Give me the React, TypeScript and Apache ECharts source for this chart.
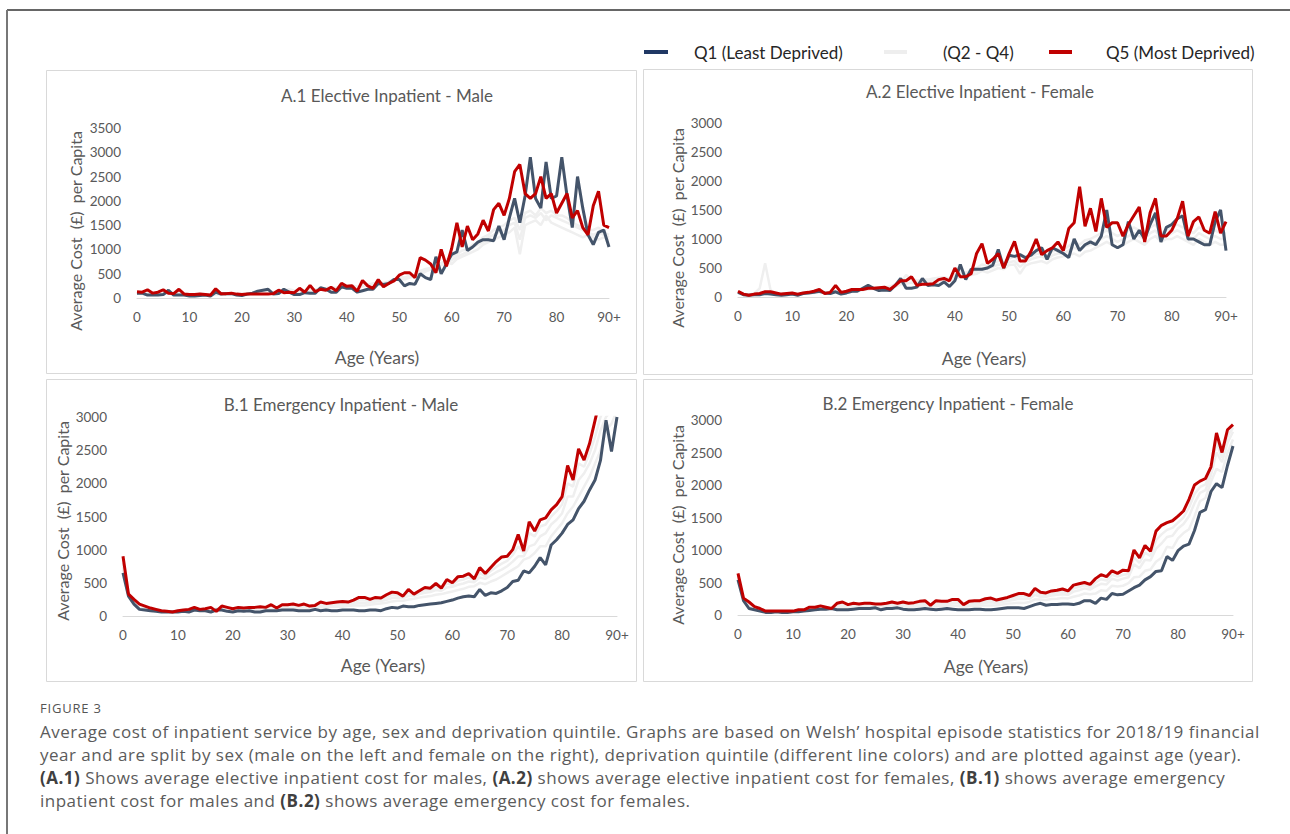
import React, { useEffect, useRef } from "react";
import * as echarts from "echarts";

const ages: string[] = Array.from({ length: 91 }, (_, i) => (i === 90 ? "90+" : String(i)));

// ---------- A.1 Elective Inpatient - Male ----------
const a1Q1 = [
  100, 100, 60, 60, 60, 70, 160, 60, 60, 60,
  40, 40, 50, 60, 40, 120, 80, 90, 90, 60,
  50, 80, 100, 140, 160, 180, 80, 90, 180, 120,
  70, 70, 110, 100, 100, 210, 180, 120, 120, 230,
  200, 200, 120, 150, 180, 180, 300, 280, 300, 380,
  380, 250, 300, 280, 500, 420, 380, 850, 500, 700,
  900, 950, 1400, 980, 1050, 1150, 1200, 1200, 1180, 1480,
  1200, 1650, 2050, 1550, 2100, 2900, 2050, 1850, 2800, 2050,
  2100, 2900, 2100, 1450, 2500, 1850, 1300, 1100, 1350, 1400,
  1050,
];
const a1Q2 = [
  110, 90, 80, 70, 80, 90, 100, 80, 90, 70,
  60, 60, 70, 70, 60, 90, 80, 80, 90, 70,
  70, 80, 90, 100, 110, 120, 100, 110, 130, 150,
  120, 110, 130, 150, 160, 170, 180, 190, 200, 210,
  220, 230, 200, 240, 250, 270, 290, 280, 320, 360,
  400, 380, 420, 450, 520, 560, 580, 620, 680, 700,
  780, 850, 900, 950, 1050, 1100, 1150, 1250, 1300, 1350,
  1400, 1500, 1550, 1200, 1650, 1700, 1650, 1750, 1600, 1700,
  1650, 1600, 1550, 1500, 1450, 1400, 1350, 1300, 1350, 1300,
  1250,
];
const a1Q3 = [
  100, 80, 70, 60, 70, 80, 90, 70, 80, 60,
  50, 50, 60, 60, 50, 70, 70, 70, 80, 60,
  60, 70, 80, 90, 100, 110, 100, 120, 140, 160,
  130, 120, 140, 170, 150, 180, 200, 210, 190, 230,
  240, 220, 210, 250, 270, 260, 300, 310, 330, 350,
  420, 400, 440, 430, 500, 540, 600, 650, 700, 750,
  700, 800, 850, 900, 950, 1000, 1100, 1150, 1200, 1250,
  1300, 1350, 1450, 900, 1500, 1550, 1600, 1500, 1700, 1550,
  1500, 1450, 1400, 1350, 1300, 1250, 1300, 1250, 1200, 1250,
  1200,
];
const a1Q4 = [
  120, 100, 90, 80, 90, 100, 110, 90, 100, 80,
  70, 70, 80, 80, 70, 100, 90, 90, 100, 80,
  80, 90, 100, 110, 120, 130, 120, 130, 150, 180,
  150, 140, 150, 170, 180, 190, 200, 220, 210, 240,
  250, 260, 230, 270, 280, 300, 320, 310, 340, 380,
  430, 420, 460, 480, 560, 600, 620, 680, 720, 780,
  850, 900, 980, 1000, 1100, 1150, 1250, 1300, 1400, 1450,
  1500, 1600, 1650, 1400, 1750, 1800, 1700, 1850, 1750, 1800,
  1700, 1700, 1650, 1550, 1500, 1450, 1400, 1400, 1450, 1350,
  1300,
];
const a1Q5 = [
  130, 120, 170, 100, 120, 170, 100, 90, 180, 80,
  70, 70, 80, 70, 60, 190, 90, 90, 100, 80,
  70, 80, 80, 80, 80, 80, 90, 160, 110, 120,
  110, 200, 120, 260, 130, 180, 160, 220, 150, 300,
  240, 250, 140, 360, 250, 200, 380, 230, 300, 350,
  470, 520, 520, 420, 830, 780, 700, 520, 1000, 650,
  1020, 1550, 1050, 1480, 1200, 1320, 1600, 1380, 1820, 1950,
  1700, 2050, 2600, 2750, 2150, 2050, 2150, 2500, 2050, 2150,
  1750, 1950, 2150, 1650, 1800, 1450, 1300, 1900, 2200, 1500,
  1450,
];

// ---------- A.2 Elective Inpatient - Female ----------
const a2Q1 = [
  80, 40, 30, 40, 40, 60, 50, 40, 30, 40,
  50, 30, 60, 70, 80, 100, 70, 60, 90, 50,
  70, 100, 100, 150, 200, 150, 110, 120, 110, 200,
  320, 150, 150, 170, 320, 200, 210, 200, 260, 180,
  280, 560, 300, 480, 480, 480, 500, 550, 820, 500,
  720, 700, 730, 680, 720, 800, 850, 650, 850, 800,
  750, 680, 1000, 800, 900, 950, 900, 1050, 1500, 900,
  850, 900, 1300, 1000, 1150, 1000, 1250, 1450, 950, 1200,
  1250, 1350, 1400, 1000, 1000, 950, 900, 900, 1300, 1500,
  800,
];
const a2Q2 = [
  90, 50, 40, 60, 150, 580, 120, 60, 50, 50,
  60, 50, 60, 70, 80, 90, 70, 70, 90, 70,
  80, 100, 110, 130, 150, 150, 140, 150, 160, 200,
  250, 380, 300, 250, 260, 270, 280, 300, 320, 300,
  350, 400, 380, 420, 450, 500, 480, 520, 560, 550,
  600, 620, 520, 600, 650, 680, 700, 650, 720, 750,
  750, 800, 850, 820, 880, 900, 950, 1000, 1050, 1000,
  950, 1000, 1050, 1100, 1050, 1000, 1100, 1150, 1000, 1050,
  1100, 1150, 1100, 1050, 1000, 1100, 1050, 1000, 1050, 1000,
  1000,
];
const a2Q3 = [
  80, 40, 30, 50, 60, 70, 60, 50, 50, 50,
  50, 40, 60, 60, 70, 80, 70, 60, 80, 60,
  70, 90, 100, 120, 130, 140, 130, 140, 150, 180,
  220, 230, 250, 220, 240, 230, 250, 260, 280, 270,
  320, 340, 350, 380, 400, 450, 420, 460, 500, 480,
  550, 560, 400, 540, 580, 600, 620, 580, 650, 680,
  700, 720, 750, 700, 780, 800, 850, 900, 950, 900,
  850, 900, 950, 1000, 950, 900, 1000, 1050, 950, 1000,
  1000, 1050, 1000, 950, 900, 1000, 950, 900, 950, 900,
  900,
];
const a2Q4 = [
  100, 60, 40, 60, 70, 90, 80, 60, 60, 60,
  70, 50, 70, 80, 90, 110, 80, 80, 110, 80,
  90, 110, 120, 140, 160, 160, 160, 170, 180, 220,
  280, 300, 320, 280, 300, 300, 320, 330, 340, 320,
  380, 420, 420, 460, 500, 560, 540, 580, 620, 600,
  660, 700, 600, 660, 700, 740, 760, 720, 780, 820,
  820, 880, 950, 900, 980, 1000, 1050, 1100, 1150, 1100,
  1050, 1100, 1150, 1200, 1150, 1100, 1200, 1250, 1100, 1150,
  1200, 1250, 1200, 1150, 1100, 1200, 1150, 1100, 1150, 1100,
  1100,
];
const a2Q5 = [
  100, 50, 30, 50, 60, 90, 90, 70, 50, 60,
  70, 50, 70, 80, 100, 130, 60, 80, 200, 80,
  100, 130, 130, 130, 150, 150, 160, 170, 130, 200,
  280, 280, 350, 200, 220, 220, 230, 300, 320, 280,
  500, 350, 350, 400, 750, 920, 580, 650, 750, 500,
  750, 960, 620, 620, 780, 1000, 730, 800, 850, 950,
  800, 1180, 1280, 1900, 1220, 1530, 1130, 1700, 1200, 1280,
  1280, 1050, 1250, 1400, 1550, 950, 1450, 1700, 1050, 1050,
  1150, 1350, 1650, 1050, 1300, 1380, 1150, 1100, 1470, 1100,
  1300,
];

// ---------- B.1 Emergency Inpatient - Male ----------
const b1Q1 = [
  650, 300, 180, 100, 90, 80, 70, 60, 60, 60,
  60, 70, 60, 90, 80, 80, 60, 90, 90, 70,
  60, 80, 70, 80, 60, 60, 80, 80, 80, 90,
  90, 90, 80, 80, 80, 100, 80, 90, 80, 80,
  90, 90, 90, 80, 80, 90, 90, 80, 110, 130,
  120, 150, 140, 140, 160, 170, 180, 190, 200, 220,
  240, 270, 290, 300, 290, 400, 310, 350, 340, 380,
  430, 520, 540, 680, 650, 750, 880, 770, 1070, 1150,
  1250, 1380, 1450, 1620, 1730, 1900, 2050, 2350, 2950, 2480,
  3000,
];
const b1Q2 = [
  700, 300, 200, 120, 100, 90, 80, 70, 60, 60,
  70, 80, 80, 100, 90, 90, 80, 100, 110, 100,
  100, 100, 100, 110, 100, 100, 110, 120, 110, 120,
  120, 120, 120, 130, 120, 130, 130, 130, 140, 140,
  140, 150, 160, 160, 160, 170, 180, 190, 200, 220,
  230, 230, 250, 260, 280, 290, 300, 320, 330, 350,
  370, 390, 410, 440, 450, 500, 480, 520, 550, 600,
  650, 700, 750, 850, 880, 950, 1050, 1050, 1200, 1300,
  1400, 1550, 1650, 1800, 1950, 2100, 2300, 2500, 2800, 2900,
  3100,
];
const b1Q3 = [
  750, 310, 210, 130, 110, 95, 85, 75, 65, 60,
  75, 85, 85, 110, 95, 100, 95, 110, 120, 110,
  105, 110, 110, 115, 110, 115, 120, 130, 120, 130,
  135, 140, 135, 145, 135, 145, 150, 155, 160, 165,
  170, 175, 185, 200, 200, 205, 220, 225, 245, 270,
  280, 270, 300, 300, 330, 350, 360, 390, 380, 430,
  440, 470, 490, 520, 510, 580, 560, 610, 660, 700,
  750, 820, 900, 900, 1050, 1080, 1200, 1250, 1380, 1450,
  1550, 1800, 1800, 2050, 2150, 2300, 2500, 2800, 3000, 3100,
  3300,
];
const b1Q4 = [
  800, 320, 220, 150, 120, 100, 90, 80, 70, 65,
  78, 88, 90, 120, 100, 105, 110, 100, 130, 120,
  108, 120, 115, 122, 120, 125, 125, 150, 120, 150,
  150, 160, 150, 165, 145, 155, 180, 175, 180, 190,
  195, 195, 210, 240, 240, 230, 250, 250, 285, 315,
  315, 290, 350, 320, 355, 390, 390, 440, 410, 490,
  470, 530, 550, 580, 540, 650, 600, 680, 740, 790,
  830, 920, 1050, 950, 1250, 1200, 1350, 1380, 1500, 1580,
  1680, 2000, 1950, 2300, 2250, 2450, 2700, 3000, 3200, 3300,
  3500,
];
const b1Q5 = [
  900, 330, 250, 180, 150, 120, 100, 80, 70, 60,
  80, 90, 100, 130, 100, 110, 130, 70, 150, 130,
  110, 130, 120, 130, 130, 140, 130, 170, 120, 170,
  170, 180, 160, 180, 150, 160, 210, 190, 200, 210,
  220, 210, 240, 280, 280, 250, 280, 270, 320, 360,
  350, 300, 400, 330, 380, 430, 420, 490, 420, 550,
  500, 590, 600, 640, 560, 730, 640, 730, 820, 890,
  900, 1000, 1230, 980, 1420, 1280, 1450, 1480, 1600, 1680,
  1800, 2270, 2050, 2520, 2350, 2600, 2950, 3300, 3500, 3700,
  3900,
];

// ---------- B.2 Emergency Inpatient - Female ----------
const b2Q1 = [
  540, 220, 100, 80, 60, 40, 40, 50, 40, 40,
  50, 50, 60, 70, 80, 90, 90, 100, 80, 80,
  80, 90, 100, 100, 100, 110, 80, 100, 100, 110,
  90, 80, 80, 90, 100, 90, 80, 90, 100, 90,
  80, 80, 80, 90, 90, 80, 80, 90, 100, 110,
  110, 110, 100, 130, 160, 180, 150, 160, 160, 170,
  170, 160, 180, 220, 220, 180, 260, 240, 330, 310,
  320, 370, 420, 460, 540, 590, 670, 680, 900, 840,
  990, 1060, 1090, 1300, 1580, 1620, 1900, 2020, 1960, 2300,
  2600,
];
const b2Q2 = [
  560, 230, 140, 100, 70, 50, 50, 50, 45, 45,
  50, 55, 65, 80, 90, 100, 100, 100, 110, 110,
  110, 120, 120, 125, 125, 130, 115, 130, 135, 140,
  130, 125, 125, 135, 145, 130, 130, 140, 145, 145,
  140, 120, 135, 140, 145, 145, 145, 150, 160, 175,
  180, 190, 185, 200, 240, 240, 230, 245, 250, 260,
  255, 280, 300, 330, 320, 330, 380, 370, 450, 440,
  450, 490, 580, 590, 680, 700, 820, 880, 1050, 1030,
  1180, 1260, 1320, 1520, 1750, 1800, 2050, 2250, 2200, 2500,
  2700,
];
const b2Q3 = [
  590, 240, 160, 110, 80, 55, 55, 55, 50, 50,
  55, 65, 70, 95, 100, 115, 110, 100, 130, 140,
  130, 140, 140, 145, 145, 145, 130, 145, 155, 155,
  155, 145, 150, 160, 170, 140, 160, 165, 170, 180,
  180, 140, 165, 170, 175, 190, 195, 185, 200, 215,
  230, 250, 245, 250, 310, 280, 280, 300, 310, 320,
  310, 360, 380, 410, 390, 440, 480, 470, 560, 530,
  560, 580, 780, 720, 850, 840, 1020, 1100, 1200, 1220,
  1330, 1400, 1520, 1720, 1880, 1920, 2150, 2500, 2350, 2650,
  2820,
];
const b2Q4 = [
  610, 250, 180, 120, 90, 58, 58, 58, 55, 55,
  58, 72, 75, 108, 110, 128, 115, 100, 155, 170,
  145, 160, 155, 162, 162, 158, 150, 162, 178, 168,
  178, 162, 170, 185, 195, 145, 190, 188, 190, 210,
  210, 150, 188, 195, 198, 220, 228, 208, 225, 242,
  265, 290, 288, 275, 360, 315, 310, 335, 345, 360,
  340, 410, 430, 455, 430, 500, 550, 530, 620, 590,
  620, 630, 890, 800, 960, 910, 1150, 1240, 1310, 1340,
  1420, 1500, 1650, 1860, 1970, 2010, 2220, 2650, 2420, 2750,
  2880,
];
const b2Q5 = [
  640, 260, 200, 130, 100, 60, 60, 60, 60, 60,
  60, 80, 80, 120, 120, 140, 120, 100, 180, 200,
  160, 180, 170, 180, 180, 170, 170, 180, 200, 180,
  200, 180, 190, 210, 220, 150, 220, 210, 210, 240,
  240, 160, 210, 220, 220, 250, 260, 230, 250, 270,
  300, 330, 330, 300, 410, 350, 340, 370, 380, 400,
  370, 460, 480, 500, 470, 560, 620, 590, 680, 640,
  690, 680, 1000, 880, 1070, 980, 1290, 1380, 1420, 1450,
  1520, 1600, 1780, 2000, 2060, 2100, 2280, 2800, 2500, 2850,
  2930,
];

const panelTitles = [
  "A.1 Elective Inpatient - Male",
  "A.2 Elective Inpatient - Female",
  "B.1 Emergency Inpatient - Male",
  "B.2 Emergency Inpatient - Female",
];
const yMaxes = [3500, 3000, 3000, 3000];
const legendNames = ["Q1 (Least Deprived)", "(Q2 - Q4)", "Q5 (Most Deprived)"];
const panelData = [
  { q1: a1Q1, greys: [a1Q2, a1Q3, a1Q4], q5: a1Q5 },
  { q1: a2Q1, greys: [a2Q2, a2Q3, a2Q4], q5: a2Q5 },
  { q1: b1Q1, greys: [b1Q2, b1Q3, b1Q4], q5: b1Q5 },
  { q1: b2Q1, greys: [b2Q2, b2Q3, b2Q4], q5: b2Q5 },
];

// layout (page pixels)
const layout = [
  { box: [46, 70, 590, 303], grid: [137, 128, 472, 170], title: [387, 95], yName: [75, 231], xName: [377, 357] },
  { box: [643, 69, 609, 305], grid: [738, 123, 488, 174], title: [980, 91], yName: [677, 228], xName: [984, 358] },
  { box: [46, 379, 590, 302], grid: [123, 417, 494, 199], title: [341, 404], yName: [62, 521], xName: [383, 665] },
  { box: [643, 379, 609, 302], grid: [738, 420, 495, 195], title: [948, 403], yName: [677, 525], xName: [986, 666] },
];

const FONT = "Lato, 'Open Sans', sans-serif";
const NAVY = "#44546a";
const RED = "#c00000";
const GREY = "#efefef";
const TXT = "#595959";

export default function App() {
  const ref = useRef<HTMLDivElement>(null);

  useEffect(() => {
    if (!ref.current) return;
    const chart = echarts.init(ref.current, undefined, { renderer: "svg" });

    const grids: any[] = [];
    const xAxes: any[] = [];
    const yAxes: any[] = [];
    const series: any[] = [];
    const graphics: any[] = [];

    // outer frame
    graphics.push({ type: "line", shape: { x1: 7, y1: 10, x2: 1290, y2: 10 }, style: { stroke: "#666", lineWidth: 2 }, silent: true });
    graphics.push({ type: "line", shape: { x1: 7, y1: 10, x2: 7, y2: 834 }, style: { stroke: "#777", lineWidth: 2 }, silent: true });

    layout.forEach((L, i) => {
      const [gl, gt, gw, gh] = L.grid;
      grids.push({ left: gl, top: gt, width: gw, height: gh, containLabel: false });
      xAxes.push({
        type: "category",
        gridIndex: i,
        data: ages,
        boundaryGap: false,
        axisLine: { show: true, lineStyle: { color: "#d9d9d9", width: 1 } },
        axisTick: { show: false },
        axisLabel: { interval: 9, color: TXT, fontSize: 13.5, fontFamily: FONT, margin: 12 },
        splitLine: { show: false },
      });
      yAxes.push({
        type: "value",
        gridIndex: i,
        min: 0,
        max: yMaxes[i],
        interval: 500,
        axisLine: { show: false },
        axisTick: { show: false },
        splitLine: { show: false },
        axisLabel: { color: TXT, fontSize: 13.5, fontFamily: FONT, margin: 16, formatter: (v: number) => String(v) },
      });
      const d = panelData[i];
      d.greys.forEach((g, k) => {
        series.push({
          type: "line",
          name: legendNames[1],
          xAxisIndex: i,
          yAxisIndex: i,
          data: g,
          symbol: "none",
          clip: true,
          lineStyle: { color: GREY, width: 2.5 },
          z: 2 + k * 0.1,
          silent: true,
        });
      });
      series.push({
        type: "line",
        name: legendNames[0],
        xAxisIndex: i,
        yAxisIndex: i,
        data: d.q1,
        symbol: "none",
        clip: true,
        lineStyle: { color: NAVY, width: 3 },
        z: 3,
        silent: true,
      });
      series.push({
        type: "line",
        name: legendNames[2],
        xAxisIndex: i,
        yAxisIndex: i,
        data: d.q5,
        symbol: "none",
        clip: true,
        lineStyle: { color: RED, width: 3 },
        z: 4,
        silent: true,
      });

      const [bx, by, bw, bh] = L.box;
      graphics.push({ type: "rect", shape: { x: bx + 0.5, y: by + 0.5, width: bw, height: bh }, style: { fill: "none", stroke: "#d9d9d9", lineWidth: 1 }, silent: true, z: 0 });
      graphics.push({
        type: "text",
        x: L.title[0],
        y: L.title[1],
        style: { text: panelTitles[i], fill: TXT, fontSize: 17, fontFamily: FONT, textAlign: "center", textVerticalAlign: "middle" },
        silent: true,
      });
      graphics.push({
        type: "text",
        x: L.yName[0],
        y: L.yName[1],
        rotation: Math.PI / 2,
        style: { text: "Average Cost  (£)  per Capita", fill: TXT, fontSize: 16, fontFamily: FONT, textAlign: "center", textVerticalAlign: "middle" },
        silent: true,
      });
      graphics.push({
        type: "text",
        x: L.xName[0],
        y: L.xName[1],
        style: { text: "Age (Years)", fill: TXT, fontSize: 17.5, fontFamily: FONT, textAlign: "center", textVerticalAlign: "middle" },
        silent: true,
      });
    });

    // legend
    const legendItems = [
      { icon: [644, 24], color: "#203864", text: legendNames[0], tx: 694 },
      { icon: [884, 23], color: "#eeeeee", text: legendNames[1], tx: 943 },
      { icon: [1049, 23], color: RED, text: legendNames[2], tx: 1106 },
    ];
    legendItems.forEach((it) => {
      graphics.push({ type: "rect", shape: { x: it.icon[0], y: 50, width: it.icon[1], height: 4 }, style: { fill: it.color }, silent: true });
      graphics.push({
        type: "text",
        x: it.tx,
        y: 52,
        style: { text: it.text, fill: "#262626", fontSize: 17, fontFamily: FONT, textAlign: "left", textVerticalAlign: "middle" },
        silent: true,
      });
    });

    chart.setOption({
      animation: false,
      backgroundColor: "#ffffff",
      grid: grids,
      xAxis: xAxes,
      yAxis: yAxes,
      series,
      graphic: graphics,
    });
    return () => chart.dispose();
  }, []);

  const capFont = "'Open Sans', 'Noto Sans', sans-serif";
  const lineStyle = (top: number): React.CSSProperties => ({
    position: "absolute",
    left: 40,
    top,
    fontSize: 17,
    letterSpacing: 0.5,
    lineHeight: "23px",
    whiteSpace: "nowrap",
    color: "#5b5b5b",
    fontFamily: capFont,
  });
  const b: React.CSSProperties = { fontWeight: 700, color: "#404040" };

  return (
    <div style={{ position: "absolute", left: 0, top: 0, width: 1290, height: 834, background: "#fff" }}>
      <div ref={ref} style={{ position: "absolute", left: 0, top: 0, width: 1290, height: 834 }} />
      <div style={{ position: "absolute", left: 40, top: 699, fontSize: 13, lineHeight: "18px", color: "#555", fontFamily: capFont, letterSpacing: 0.8 }}>
        FIGURE 3
      </div>
      <div style={lineStyle(720)}>
        Average cost of inpatient service by age, sex and deprivation quintile. Graphs are based on Welsh’ hospital episode statistics for 2018/19 financial
      </div>
      <div style={lineStyle(743)}>
        year and are split by sex (male on the left and female on the right), deprivation quintile (different line colors) and are plotted against age (year).
      </div>
      <div style={lineStyle(766)}>
        <span style={b}>(A.1)</span> Shows average elective inpatient cost for males, <span style={b}>(A.2)</span> shows average elective inpatient cost for females, <span style={b}>(B.1)</span> shows average emergency
      </div>
      <div style={lineStyle(789)}>
        inpatient cost for males and <span style={b}>(B.2)</span> shows average emergency cost for females.
      </div>
    </div>
  );
}
